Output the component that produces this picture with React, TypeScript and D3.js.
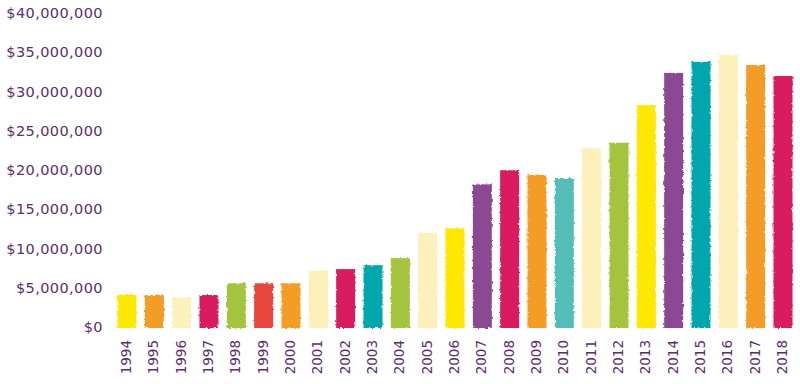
import React from 'react';
import * as d3 from 'd3';

// values (USD)
const years = ['1994', '1995', '1996', '1997', '1998', '1999', '2000', '2001', '2002', '2003', '2004', '2005', '2006',
  '2007', '2008', '2009', '2010', '2011', '2012', '2013', '2014', '2015', '2016', '2017', '2018'];
const amounts = [4200000, 4200000, 3900000, 4200000, 5700000, 5700000, 5700000, 7300000, 7500000, 8000000, 8900000,
  12100000, 12700000, 18300000, 20100000, 19500000, 19100000, 22900000, 23600000, 28400000, 32500000, 33900000,
  34800000, 33500000, 32100000];
const barColors = ['#ffe800', '#f39c26', '#fdf0bb', '#d81b5e', '#a4c43c', '#e8453c', '#f39c26', '#fdf0bb', '#d81b5e',
  '#00a6ad', '#a4c43c', '#fdf0bb', '#ffe800', '#8b4893', '#d81b5e', '#f39c26', '#55bdb8', '#fdf0bb', '#a4c43c',
  '#ffe800', '#8b4893', '#00a6ad', '#fdf0bb', '#f39c26', '#d81b5e'];
const yTicks = [0, 5000000, 10000000, 15000000, 20000000, 25000000, 30000000, 35000000, 40000000];

const textColor = '#5c2d6e';

export default function App() {
  const width = 800, height = 384;

  const x = d3.scalePoint().domain(years).range([127, 783]);
  const y = d3.scaleLinear().domain([0, 40000000]).range([328, 14]);
  const barW = 19;

  const fmt = (v: number) => '$' + d3.format(',')(v);

  return (
    <svg width={width} height={height} style={{ position: 'absolute', left: 0, top: 0, background: '#fff' }}>
      <defs>
        <filter id="rough" x="-10%" y="-5%" width="120%" height="110%">
          <feTurbulence type="fractalNoise" baseFrequency="0.35" numOctaves="2" seed="3" result="noise" />
          <feDisplacementMap in="SourceGraphic" in2="noise" scale="3" xChannelSelector="R" yChannelSelector="G" />
        </filter>
      </defs>

      {/* y axis labels */}
      {yTicks.map(t => (
        <text key={t} x={103} y={y(t)} textAnchor="end" dominantBaseline="middle"
          fontFamily="'DejaVu Sans', sans-serif" fontSize={14.5} letterSpacing={0.4} fill={textColor}>
          {fmt(t)}
        </text>
      ))}

      {/* bars */}
      <g filter="url(#rough)">
        {years.map((yr, i) => (
          <rect key={yr} x={(x(yr) as number) - barW / 2} y={y(amounts[i])} width={barW}
            height={y(0) - y(amounts[i])} fill={barColors[i]} />
        ))}
      </g>

      {/* year labels */}
      {years.map(yr => (
        <text key={yr} transform={`translate(${x(yr)},340) rotate(-90)`} textAnchor="end" dominantBaseline="middle"
          fontFamily="'DejaVu Sans', sans-serif" fontSize={13.5} fill={textColor}>
          {yr}
        </text>
      ))}
    </svg>
  );
}
